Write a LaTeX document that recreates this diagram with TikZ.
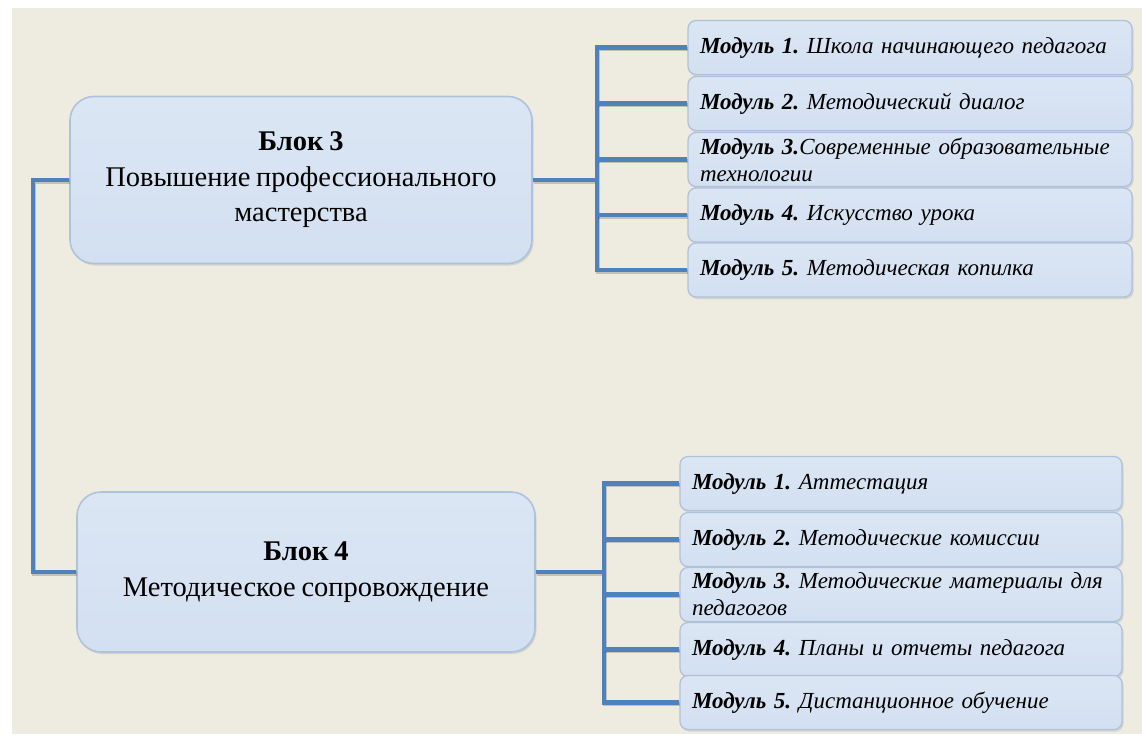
\documentclass[tikz,border=0pt]{standalone}
\usepackage{fontspec}
\setmainfont{Liberation Serif}[WordSpace=0.8]
\usetikzlibrary{shadows,calc}
\definecolor{bgbeige}{HTML}{EEEBE0}
\definecolor{conn}{HTML}{4F81BD}
\definecolor{boxtop}{HTML}{DBE6F4}
\definecolor{boxmid}{HTML}{C3D4EC}
\definecolor{boxbot}{HTML}{D3E0F1}
\definecolor{boxedge}{HTML}{AFC2DC}
\frenchspacing
\begin{document}
\begin{tikzpicture}[x=1pt,y=-1pt,
  boxfill/.style={draw=boxedge, top color=boxtop, middle color=boxmid, bottom color=boxbot,
    drop shadow={opacity=0.22, shadow xshift=1.5pt, shadow yshift=-2pt}},
  blockbox/.style={boxfill, line width=1.6pt, rounded corners=24pt, align=center,
    inner sep=0pt, font=\fontsize{28.5}{35.5}\selectfont},
  modbox/.style={boxfill, line width=1.3pt, rounded corners=8pt, minimum height=54pt,
    text width=420pt, inner xsep=12pt, inner ysep=0pt, align=left,
    font=\fontsize{23}{27}\selectfont\itshape},
  link/.style={draw=conn, line width=4.5pt, line join=miter,
    preaction={draw=black, opacity=0.18, line width=4.5pt, transform canvas={shift={(1pt,-1.5pt)}}}}
]
\useasboundingbox (0,0) rectangle (1142,734);
\fill[white] (0,0) rectangle (1142,734);
\fill[bgbeige] (12,8) rectangle (1142,734);

% blocks
\node[blockbox, minimum width=462pt, minimum height=167pt] (b3) at (301,180)
  {\textbf{Блок 3}\\Повышение профессионального\\мастерства};
\node[blockbox, minimum width=458pt, minimum height=160pt] (b4) at (306,572)
  {\textbf{Блок 4}\\Методическое сопровождение};

% modules of block 3
\node[modbox, minimum width=444pt] (m31) at (910,47.5) {\textbf{Модуль 1.} Школа начинающего педагога};
\node[modbox, minimum width=444pt] (m32) at (910,103.5) {\textbf{Модуль 2.} Методический диалог};
\node[modbox, minimum width=444pt] (m33) at (910,159.5) {\textbf{Модуль 3.}Современные образовательные\\технологии};
\node[modbox, minimum width=444pt] (m34) at (910,215) {\textbf{Модуль 4.} Искусство урока};
\node[modbox, minimum width=444pt] (m35) at (910,270) {\textbf{Модуль 5.} Методическая копилка};

% modules of block 4
\node[modbox, text width=418pt] (m41) at (901,483.5) {\textbf{Модуль 1.} Аттестация};
\node[modbox, text width=418pt] (m42) at (901,539.5) {\textbf{Модуль 2.} Методические комиссии};
\node[modbox, text width=418pt] (m43) at (901,594.5) {\textbf{Модуль 3.} Методические материалы для\\педагогов};
\node[modbox, text width=418pt] (m44) at (901,649.5) {\textbf{Модуль 4.} Планы и отчеты педагога};
\node[modbox, text width=418pt] (m45) at (901,702.5) {\textbf{Модуль 5.} Дистанционное обучение};

% junction coordinates
\coordinate (L) at (33,0);
\coordinate (J3) at (597,0);
\coordinate (J4) at (604,0);

% left connector
\draw[link] (b3.west) -- (b3.west -| L) |- (b4.west);

% block 3 tree
\draw[link] (b3.east) -- (b3.east -| J3);
\draw[link] (m31.west) -- (m31.west -| J3) -- (m35.west -| J3) -- (m35.west);
\foreach \m in {m32,m33,m34} \draw[link] (\m.west -| J3) -- (\m.west);

% block 4 tree
\draw[link] (b4.east) -- (b4.east -| J4);
\draw[link] (m41.west) -- (m41.west -| J4) -- (m45.west -| J4) -- (m45.west);
\foreach \m in {m42,m43,m44} \draw[link] (\m.west -| J4) -- (\m.west);
\end{tikzpicture}
\end{document}
